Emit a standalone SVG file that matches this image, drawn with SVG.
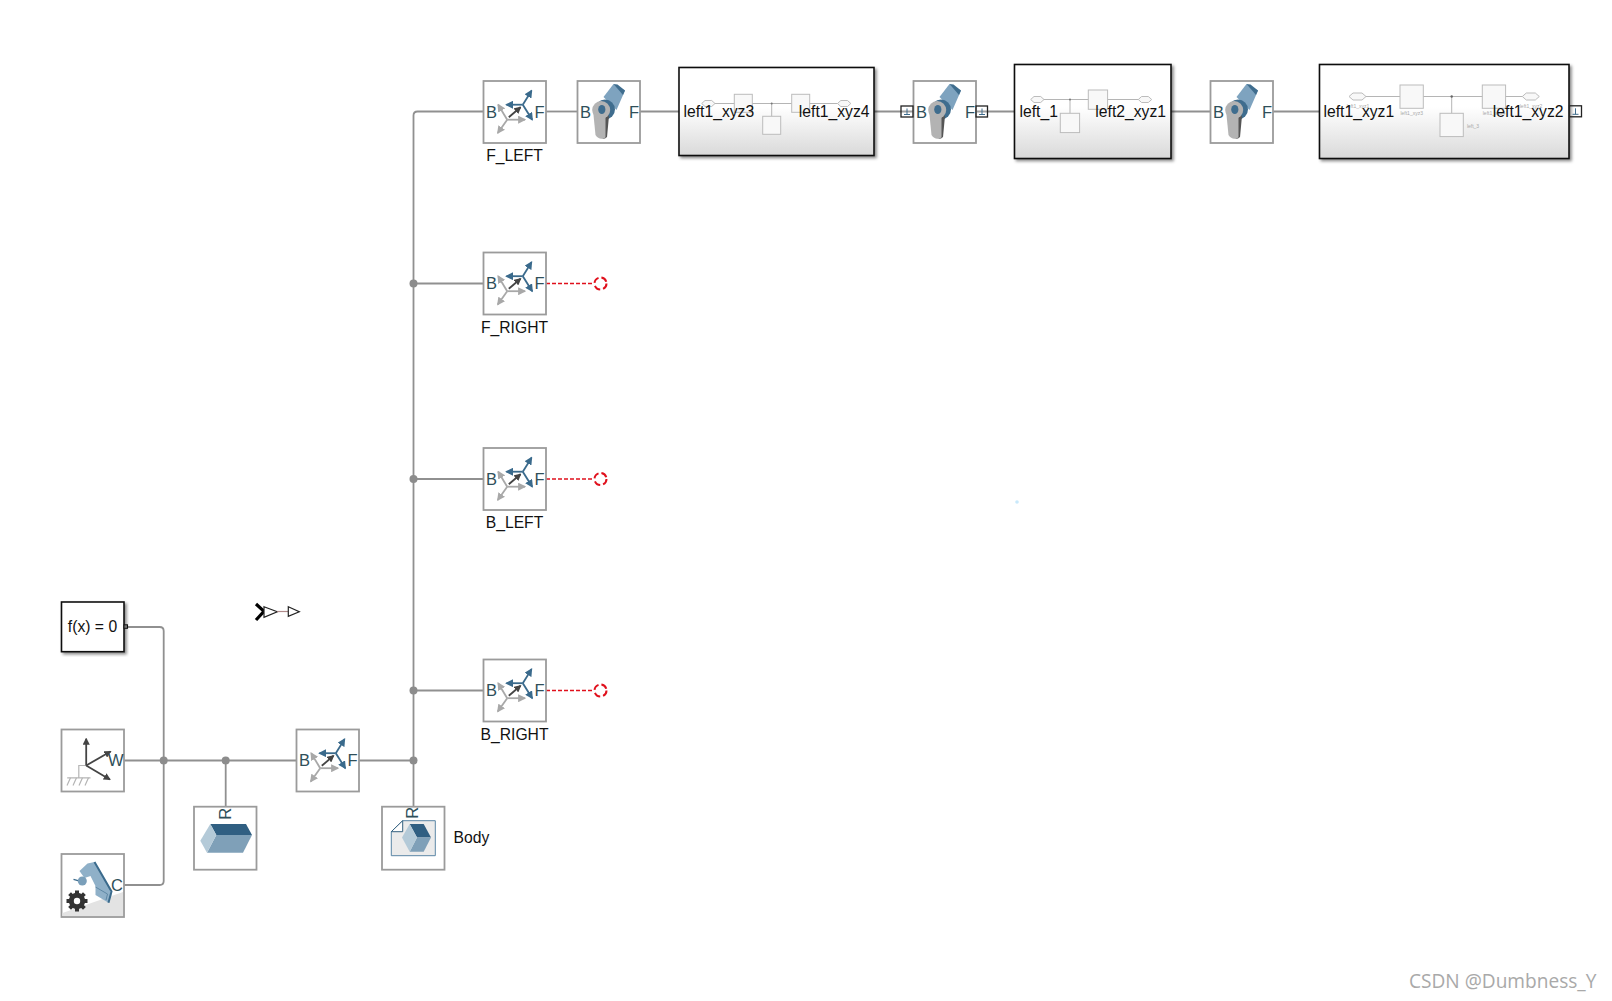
<svg xmlns="http://www.w3.org/2000/svg" width="1612" height="1001" viewBox="0 0 1612 1001">
<style>
text{font-family:"Liberation Sans",Arial,sans-serif;font-size:15.7px;fill:#111}
.block{fill:#fff;stroke:#9b9b9b;stroke-width:1.800}
.port{fill:#2f4f5a;font-size:16.500px}
.lbl{text-anchor:middle}
.end{text-anchor:end}
.sub{fill:url(#subGrad);stroke:#111;stroke-width:1.600;filter:url(#shadow)}
.wire{fill:none;stroke:#909090;stroke-width:1.800}
.red{fill:none;stroke:#e0101c;stroke-width:1.500;stroke-dasharray:4 2}
.redc{fill:none;stroke:#e0101c;stroke-width:2;stroke-dasharray:6.500 3}
.jn{fill:#8c8c8c}
.mini{fill:#f8f8f8;stroke:#bcbcbc;stroke-width:1}
.minil{fill:none;stroke:#b5b5b5;stroke-width:1}
.tiny{font-size:5px;fill:#a8a8a8;text-anchor:middle}
.cp{fill:#fff;fill-opacity:.15;stroke:#222;stroke-width:1.300}
.cps{fill:none;stroke:#3f6d8e;stroke-width:1}
.ab{stroke:#3a6a8c;stroke-width:1.800;fill:none}
.ag{stroke:#a8a8a8;stroke-width:1.800;fill:none}
.ak{stroke:#444;stroke-width:1.800;fill:none}
</style>
<defs>
<linearGradient id="subGrad" x1="0" y1="0" x2="0" y2="1"><stop offset="0.45" stop-color="#ffffff"/><stop offset="1" stop-color="#d9d9d9"/></linearGradient>
<filter id="shadow" x="-5%" y="-5%" width="112%" height="115%"><feDropShadow dx="2" dy="2" stdDeviation="1.500" flood-color="#000" flood-opacity="0.450"/></filter>
<marker id="mb" viewBox="0 0 6 6" refX="5" refY="3" markerWidth="4.500" markerHeight="4.500" orient="auto"><path d="M0 0L6 3L0 6z" fill="#3a6a8c"/></marker>
<marker id="mg" viewBox="0 0 6 6" refX="5" refY="3" markerWidth="4.500" markerHeight="4.500" orient="auto"><path d="M0 0L6 3L0 6z" fill="#a8a8a8"/></marker>
<marker id="mk" viewBox="0 0 6 6" refX="5" refY="3" markerWidth="4" markerHeight="4" orient="auto"><path d="M0 0L6 3L0 6z" fill="#444"/></marker>
<g id="icoTransform">
<path class="ag" marker-end="url(#mg)" d="M23.700 38.700L14.700 23.700"/>
<path class="ag" marker-end="url(#mg)" d="M23.700 38.700L41.400 38.700"/>
<path class="ag" marker-end="url(#mg)" d="M23.700 38.700L14.300 52"/>
<path class="ab" marker-end="url(#mb)" d="M39.300 23.700L48 9.700"/>
<path class="ab" marker-end="url(#mb)" d="M39.300 23.700L23 23.700"/>
<path class="ab" marker-end="url(#mb)" d="M39.300 23.700L48.700 38.700"/>
<path class="ak" marker-end="url(#mk)" d="M25.300 36.300L37 26.300"/>
</g>
<g id="icoRevolute">
<path d="M36 3L47.500 9.500L39 29L26 16z" fill="#7ea3bf"/>
<path d="M36 3L40 3.500L47.500 9.500L45.500 14z" fill="#3f6d8e"/>
<circle cx="27.500" cy="28.500" r="10" fill="#3f6d8e"/>
<path d="M20 29L22 55Q26 60 29.500 56L31.500 35z" fill="#555"/>
<path d="M15.500 29L18 54Q22 60 28 56.500L28 33z" fill="#b3b3b3"/>
<circle cx="23.700" cy="29" r="9" fill="#b3b3b3"/>
<ellipse cx="24.300" cy="28.500" rx="3.600" ry="4.600" fill="#3f6d8e"/>
</g>
<g id="gear" fill="#333">
<rect x="-2" y="-10.500" width="4" height="21"/>
<rect x="-2" y="-10.500" width="4" height="21" transform="rotate(45)"/>
<rect x="-2" y="-10.500" width="4" height="21" transform="rotate(90)"/>
<rect x="-2" y="-10.500" width="4" height="21" transform="rotate(135)"/>
<circle r="8.200"/>
<circle r="3.200" fill="#fff"/>
</g>
<g id="icoCp"><path class="cps" d="M-3 3H3M0 3V-3"/></g>
</defs>
<rect width="1612" height="1001" fill="#fff"/>

<g id="connectors">
<path class="wire" d="M128 627H159.700Q163.700 627 163.700 631V881Q163.700 885 159.700 885H124"/>
<path class="wire" d="M124 760.500H296"/>
<path class="wire" d="M225.700 760.500V806.700"/>
<path class="wire" d="M359 760.500H413.500"/>
<path class="wire" d="M413.500 806.700V115.500Q413.500 111.500 417.500 111.500H483"/>
<path class="wire" d="M413.500 283.500H483"/>
<path class="wire" d="M413.500 479H483"/>
<path class="wire" d="M413.500 690.500H483"/>
<path class="wire" d="M546 111.500H577"/>
<path class="wire" d="M640 111.500H679"/>
<path class="wire" d="M874 111.500H913"/>
<path class="wire" d="M976 111.500H1014"/>
<path class="wire" d="M1171 111.500H1210"/>
<path class="wire" d="M1273 111.500H1319"/>
<path class="red" d="M546 283.500H594"/>
<path class="red" d="M546 479H594"/>
<path class="red" d="M546 690.500H594"/>
<circle class="redc" cx="600.500" cy="283.500" r="6"/>
<circle class="redc" cx="600.500" cy="479" r="6"/>
<circle class="redc" cx="600.500" cy="690.500" r="6"/>
<circle class="jn" cx="163.700" cy="760.500" r="4"/>
<circle class="jn" cx="225.700" cy="760.500" r="4"/>
<circle class="jn" cx="413.500" cy="760.500" r="4"/>
<circle class="jn" cx="413.500" cy="690.500" r="4"/>
<circle class="jn" cx="413.500" cy="479" r="4"/>
<circle class="jn" cx="413.500" cy="283.500" r="4"/>
</g>

<g id="f_left" transform="translate(483.500 81)"><rect class="block" width="62.500" height="62"/><use href="#icoTransform"/><text class="port" x="2.500" y="36.500">B</text><text class="port" x="51" y="36.500">F</text><text class="lbl" x="31" y="79.700">F_LEFT</text></g>
<g id="f_right" transform="translate(483.500 252.500)"><rect class="block" width="62.500" height="62"/><use href="#icoTransform"/><text class="port" x="2.500" y="36.500">B</text><text class="port" x="51" y="36.500">F</text><text class="lbl" x="31" y="80">F_RIGHT</text></g>
<g id="b_left" transform="translate(483.500 448)"><rect class="block" width="62.500" height="62"/><use href="#icoTransform"/><text class="port" x="2.500" y="36.500">B</text><text class="port" x="51" y="36.500">F</text><text class="lbl" x="31" y="80">B_LEFT</text></g>
<g id="b_right" transform="translate(483.500 659.500)"><rect class="block" width="62.500" height="62"/><use href="#icoTransform"/><text class="port" x="2.500" y="36.500">B</text><text class="port" x="51" y="36.500">F</text><text class="lbl" x="31" y="80">B_RIGHT</text></g>
<g id="transform_base" transform="translate(296.500 729.500)"><rect class="block" width="62.500" height="62"/><use href="#icoTransform"/><text class="port" x="2.500" y="36.500">B</text><text class="port" x="51" y="36.500">F</text></g>

<g id="joint1" transform="translate(577.500 81)"><rect class="block" width="62.500" height="62"/><use href="#icoRevolute"/><text class="port" x="2.500" y="36.500">B</text><text class="port" x="51.500" y="36.500">F</text></g>
<g id="joint2" transform="translate(913.500 81)"><rect class="block" width="62.500" height="62"/><use href="#icoRevolute"/><text class="port" x="2.500" y="36.500">B</text><text class="port" x="51.500" y="36.500">F</text>
<rect class="cp" x="-12.500" y="25" width="12" height="11"/><use href="#icoCp" x="-6.500" y="30.500"/><rect class="cp" x="62.500" y="25" width="11.500" height="11"/><use href="#icoCp" x="68.500" y="30.500"/></g>
<g id="joint3" transform="translate(1210.500 81)"><rect class="block" width="62.500" height="62"/><use href="#icoRevolute"/><text class="port" x="2.500" y="36.500">B</text><text class="port" x="51.500" y="36.500">F</text></g>

<g id="subsystem1"><rect class="sub" x="679" y="67.500" width="195" height="88"/>
<path class="minil" d="M715 103.500H837.500M771.700 103.500V116.500"/>
<path class="mini" d="M701.700 103.500L705 100.500H711.700L715 103.500L711.700 106.500H705z"/>
<path class="mini" d="M837.500 103.500L840.800 100.500H847.500L850.800 103.500L847.500 106.500H840.800z"/>
<rect class="mini" x="734.300" y="94.300" width="18" height="18"/><rect class="mini" x="791.700" y="94.300" width="18" height="18"/><rect class="mini" x="762.700" y="116.300" width="18" height="18"/>
<circle cx="771.700" cy="103.500" r="1" fill="#777"/>
<text x="683.500" y="116.700">left1_xyz3</text><text class="end" x="869.500" y="116.700">left1_xyz4</text></g>

<g id="subsystem2"><rect class="sub" x="1014.500" y="64.500" width="156.500" height="94"/>
<path class="minil" d="M1044 99.500H1138.500M1070 99.500V113.500"/>
<path class="mini" d="M1030.700 99.500L1034 96.500H1040.700L1044 99.500L1040.700 102.500H1034z"/>
<path class="mini" d="M1138.300 99.500L1141.600 96.500H1148.300L1151.700 99.500L1148.300 102.500H1141.600z"/>
<rect class="mini" x="1088.300" y="90" width="19.300" height="19.300"/><rect class="mini" x="1060.300" y="113.300" width="19.300" height="19.300"/>
<circle cx="1070" cy="99.500" r="1" fill="#777"/>
<text x="1019.500" y="116.700">left_1</text><text class="end" x="1166" y="116.700">left2_xyz1</text></g>

<g id="subsystem3"><rect class="sub" x="1319.500" y="64.500" width="249.500" height="94"/>
<path class="minil" d="M1366 96.500H1522.500M1451.700 96.500V113.500"/>
<path class="mini" d="M1349 96.500L1353 93H1362L1366 96.500L1362 100H1353z"/>
<path class="mini" d="M1522.300 96.500L1526.300 93H1535.300L1539.300 96.500L1535.300 100H1526.300z"/>
<rect class="mini" x="1400" y="85" width="23.300" height="23.300"/><rect class="mini" x="1482.300" y="85" width="23.300" height="23.300"/><rect class="mini" x="1440" y="113.300" width="23.300" height="23.300"/>
<circle cx="1451.700" cy="96.500" r="1.200" fill="#666"/>
<text class="tiny" x="1358" y="107.500">left1_xyz1</text><text class="tiny" x="1411.700" y="114.500">left1_xyz3</text><text class="tiny" x="1494" y="114.500">left1_xyz4</text><text class="tiny" x="1473" y="127.500">left_3</text><text class="tiny" x="1531" y="107.500">left1_xyz2</text>
<text x="1323.500" y="116.700">left1_xyz1</text><text class="end" x="1563.500" y="116.700">left1_xyz2</text>
<rect class="cp" x="1569.500" y="105.800" width="12" height="11"/><use href="#icoCp" x="1575.500" y="111.300"/></g>

<g id="solver"><rect x="61.500" y="602" width="62.500" height="49.700" fill="#fff" stroke="#111" stroke-width="1.600" filter="url(#shadow)"/><text class="lbl" x="92.500" y="631.700">f(x) = 0</text><rect x="124" y="624.800" width="3.500" height="3.500" fill="#777" stroke="#111" stroke-width="1"/></g>

<g id="goto"><path d="M256 604L264 611.300L256 620" fill="none" stroke="#000" stroke-width="3.200"/><path d="M264 606.700L277.300 611.700L264 617.300z" fill="#fff" stroke="#222" stroke-width="1.200"/><path d="M277.300 611.500H288" stroke="#b08a8a" stroke-width="1.200"/><path d="M288.300 606.700L299.300 611.700L288.300 616.300z" fill="#fff" stroke="#222" stroke-width="1.200"/></g>

<g id="world" transform="translate(61.500 729.500)"><rect class="block" width="62.500" height="62"/>
<path d="M24.700 36H17.300V48.300M5.700 48.300H29" fill="none" stroke="#b5b5b5" stroke-width="1.200"/>
<path d="M9 48.300L5.500 56M15 48.300L11.500 56M21 48.300L17.500 56M27 48.300L23.500 56" fill="none" stroke="#b5b5b5" stroke-width="1.200"/>
<path class="ak" marker-end="url(#mk)" d="M24.700 36V9.300"/><path class="ak" marker-end="url(#mk)" d="M24.700 36L49 22"/><path class="ak" marker-end="url(#mk)" d="M24.700 36L48.300 50"/>
<text class="port" x="46.500" y="36.500">W</text></g>

<g id="mechconfig" transform="translate(61.500 854)"><rect class="block" width="62.500" height="63"/>
<path d="M1 59L61.500 38V62H1z" fill="#e3e3e3"/>
<path d="M18 17L26 9.500L33 8L48 34L50 41L47 48.700L34 41L34 32L29 22L23 24z" fill="#8fb0c8"/>
<path d="M33 8L50 37.500L47 48.700" fill="none" stroke="#3a6a8c" stroke-width="2"/>
<path d="M34 33L46 40L44.500 46" fill="none" stroke="#5f88a5" stroke-width="1"/>
<path d="M12 25.300L20 27.700" stroke="#3a6a8c" stroke-width="1.400"/>
<circle cx="20.800" cy="27" r="4.500" fill="#7a9fba"/>
<use href="#gear" x="15.500" y="47"/>
<text class="port" x="49.500" y="37">C</text></g>

<g id="solid" transform="translate(194 806.700)"><rect class="block" width="62.500" height="63"/>
<path d="M16.300 17.300H52L58 28.300H22.300z" fill="#305f82"/><path d="M22.300 28.300H58L49 46H13z" fill="#7fa0b8"/><path d="M16.300 17.300L22.300 28.300L13 46L6.300 34z" fill="#b4cad8"/>
<text class="port" transform="translate(37 13) rotate(-90)">R</text></g>

<g id="body" transform="translate(382 806.700)"><rect class="block" width="62.500" height="63"/>
<path d="M9.300 25L20.700 14H53.300V49H9.300z" fill="#ebebeb" stroke="#5a86a5" stroke-width="1"/>
<path d="M9.300 25L20.700 14V25z" fill="#fff" stroke="#34607f" stroke-width="1"/>
<path d="M27.700 17.300H41.700L49 30.700H35z" fill="#305f82"/><path d="M35 30.700H49L41.700 45H27.700z" fill="#7fa0b8"/><path d="M27.700 17.300L35 30.700L27.700 45L20 30.700z" fill="#b4cad8"/>
<text class="port" transform="translate(35.700 12) rotate(-90)">R</text>
<text x="71.500" y="36">Body</text></g>

<circle id="dot" cx="1017" cy="502" r="1.800" fill="#c9e9fb"/>
<text id="watermark" x="1409" y="988" style="font-family:'Open Sans',sans-serif;font-size:19.100px;fill:#a9a9a9">CSDN @Dumbness_Y</text>
</svg>
